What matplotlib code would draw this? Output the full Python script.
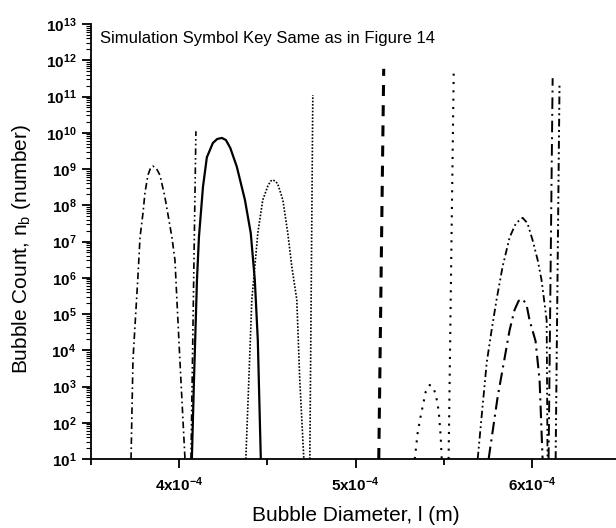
import numpy as np
import matplotlib
matplotlib.use('Agg')
import matplotlib.pyplot as plt
from matplotlib.ticker import LogLocator, MultipleLocator, FixedLocator, FuncFormatter, NullFormatter

plt.rcParams['font.family'] = ['Liberation Sans', 'DejaVu Sans']
plt.rcParams['mathtext.fontset'] = 'custom'
plt.rcParams['mathtext.bf'] = 'Liberation Sans:bold'
plt.rcParams['mathtext.rm'] = 'Liberation Sans'
plt.rcParams['mathtext.sf'] = 'Liberation Sans'

# curvas (x en metros, y = numero de burbujas)
a_x = [3.727e-4, 3.738e-4, 3.766e-4, 3.778e-4, 3.795e-4, 3.806e-4, 3.823e-4, 3.837e-4, 3.851e-4,
       3.870e-4, 3.891e-4, 3.919e-4, 3.942e-4, 3.959e-4, 3.976e-4, 4.004e-4, 4.033e-4]
a_y = [1e1, 5.4e3, 1.05e6, 1.3e7, 6.2e7, 2.2e8, 6.8e8, 1.05e9, 1.2e9,
       1.05e9, 6.8e8, 1.7e8, 3.9e7, 1.3e7, 3.1e6, 5.4e3, 1e1]

b_x = [4.072e-4, 4.084e-4, 4.101e-4, 4.112e-4, 4.135e-4, 4.157e-4, 4.191e-4, 4.215e-4, 4.242e-4,
       4.265e-4, 4.290e-4, 4.327e-4, 4.373e-4, 4.406e-4, 4.429e-4, 4.446e-4, 4.463e-4]
b_y = [1e1, 1.5e3, 8.7e5, 1.3e7, 3.2e8, 2.1e9, 5.2e9, 6.7e9, 7.2e9,
       6.3e9, 3.8e9, 1.15e9, 1.4e8, 1.7e7, 8.7e5, 1.9e4, 1e1]

c_x = [4.378e-4, 4.395e-4, 4.412e-4, 4.429e-4, 4.446e-4, 4.474e-4, 4.503e-4, 4.518e-4, 4.531e-4,
       4.545e-4, 4.559e-4, 4.588e-4, 4.616e-4, 4.639e-4, 4.667e-4, 4.684e-4, 4.707e-4]
c_y = [1e1, 1.5e3, 2.5e5, 2e6, 1.7e7, 1.4e8, 3.4e8, 4.6e8, 5e8,
       4.6e8, 3.9e8, 1.4e8, 1.7e7, 2e6, 2.5e5, 1.5e3, 1e1]

d_x = [5.336e-4, 5.353e-4, 5.370e-4, 5.398e-4, 5.421e-4, 5.438e-4, 5.455e-4, 5.472e-4, 5.483e-4, 5.489e-4]
d_y = [1e1, 55, 155, 710, 1100, 980, 620, 210, 43, 1e1]

e_x = [5.693e-4, 5.715e-4, 5.744e-4, 5.772e-4, 5.800e-4, 5.834e-4, 5.874e-4, 5.910e-4, 5.948e-4,
       5.975e-4, 6.004e-4, 6.033e-4, 6.055e-4, 6.084e-4, 6.089e-4]
e_y = [1e1, 145, 4.5e3, 3.6e4, 2.5e5, 2e6, 1.3e7, 3.2e7, 4.5e7,
       3.2e7, 1.1e7, 3.1e6, 8.7e5, 6.8e4, 1e1]

f_x = [5.755e-4, 5.806e-4, 5.874e-4, 5.902e-4, 5.925e-4, 5.948e-4, 5.970e-4, 5.987e-4, 6.021e-4, 6.044e-4, 6.061e-4]
f_y = [1e1, 510, 3.6e4, 1.3e5, 2.3e5, 2.6e5, 1.8e5, 6.8e4, 1.8e4, 1.5e3, 1e1]

# lineas casi verticales (abajo, arriba)
v1_x = [4.067e-4, 4.095e-4]; v1_y = [1e1, 1.1e10]
v2_x = [4.741e-4, 4.758e-4]; v2_y = [1e1, 1.1e11]
v3_x = [5.132e-4, 5.160e-4]; v3_y = [1e1, 5.8e11]
v4_x = [5.528e-4, 5.557e-4]; v4_y = [1e1, 4.8e11]
v5_x = [6.095e-4, 6.118e-4]; v5_y = [1e1, 3.2e11]
v6_x = [6.135e-4, 6.157e-4]; v6_y = [1e1, 2.2e11]

x_major = [4e-4, 5e-4, 6e-4]
x_major_lab = ['4', '5', '6']

dashdot = (0, (4, 2, 1, 2))
dashdotdot = (0, (4, 1.8, 1, 1.8, 1, 1.8))
longdashdot = (0, (6, 2.5, 1, 2.5))
finedot = (0, (1, 1))
coarsedot = (0, (1, 3))
bigdash = (0, (3.6, 3))

fig = plt.figure(figsize=(6.16, 5.28), dpi=100)
ax = fig.add_axes([91/616, 69/528, 529/616, 435/528])

ax.plot(a_x, a_y, color='black', lw=1.2, linestyle=dashdot)
ax.plot(v1_x, v1_y, color='black', lw=1.2, linestyle=dashdotdot)
ax.plot(b_x, b_y, color='black', lw=1.6, linestyle='-')
ax.plot(c_x, c_y, color='black', lw=1.2, linestyle=finedot)
ax.plot(v2_x, v2_y, color='black', lw=1.2, linestyle=finedot)
ax.plot(v3_x, v3_y, color='black', lw=2.2, linestyle=bigdash)
ax.plot(v4_x, v4_y, color='black', lw=1.5, linestyle=coarsedot)
ax.plot(d_x, d_y, color='black', lw=1.5, linestyle=coarsedot)
ax.plot(e_x, e_y, color='black', lw=1.3, linestyle=dashdotdot)
ax.plot(f_x, f_y, color='black', lw=1.5, linestyle=longdashdot)
ax.plot(v5_x, v5_y, color='black', lw=1.4, linestyle=longdashdot)
ax.plot(v6_x, v6_y, color='black', lw=1.4, linestyle=dashdotdot)

ax.set_yscale('log')
ax.set_xlim(3.5e-4, 6.5e-4)
ax.set_ylim(1e1, 1e13)

ax.spines['top'].set_visible(False)
ax.spines['right'].set_visible(False)
ax.spines['left'].set_linewidth(1.3)
ax.spines['bottom'].set_linewidth(1.3)

ax.yaxis.set_major_locator(LogLocator(base=10, numticks=30))
ax.yaxis.set_minor_locator(LogLocator(base=10, subs=np.arange(2, 10), numticks=30))
ax.yaxis.set_major_formatter(FuncFormatter(lambda v, p: r'$\mathbf{10^{%d}}$' % round(np.log10(v))))
ax.yaxis.set_minor_formatter(NullFormatter())

ax.xaxis.set_major_locator(FixedLocator(x_major))
ax.xaxis.set_minor_locator(MultipleLocator(0.5e-4))
ax.set_xticklabels([r'$\mathbf{%sx10^{-4}}$' % s for s in x_major_lab])

ax.tick_params(which='major', direction='out', length=6.5, width=1.3, labelsize=11, pad=4)
ax.tick_params(which='minor', direction='out', length=3.5, width=0.8)
ax.tick_params(axis='x', which='major', length=6.5, pad=5)
ax.tick_params(axis='x', which='minor', length=4.5, width=1.3)
for lab in ax.get_yticklabels():
    lab.set_verticalalignment('center_baseline')

ax.set_xlabel('Bubble Diameter, l (m)', fontsize=15, labelpad=9)
ax.set_ylabel(r'Bubble Count, n$_\mathsf{b}$ (number)', fontsize=15)
ax.yaxis.set_label_coords(-0.11, 0.483)
ax.text(100/616, 1 - 38/528, 'Simulation Symbol Key Same as in Figure 14', transform=fig.transFigure,
        fontsize=12, va='center', ha='left')

plt.savefig('out.png', dpi=100)
